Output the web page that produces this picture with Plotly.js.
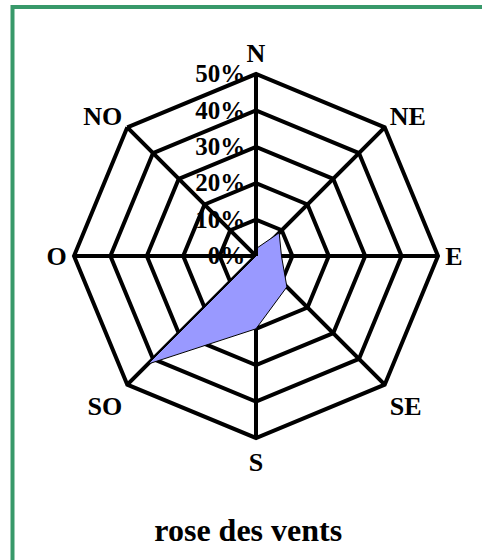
<!DOCTYPE html>
<html>
<head>
<meta charset="utf-8">
<script src="https://cdn.plot.ly/plotly-3.0.1.min.js"></script>
<style>
  body { margin: 0; background: #fff; }
  #rose { width: 482px; height: 560px; }
</style>
</head>
<body>
<div id="rose"></div>
<script>
// directions du vent, sens horaire depuis le nord
const directions = ["N", "NE", "E", "SE", "S", "SO", "O", "NO"];
// frequence en %
const frequences = [2, 9, 7, 12, 20, 42, 0, 0];
const ticksRayon = [0, 10, 20, 30, 40, 50];

const rosePlot = document.getElementById("rose");

// on ferme le polygone
let r = frequences.concat([frequences[0]]);
let theta = directions.concat([directions[0]]);

let datos = [
  {
    type: "scatterpolar",
    r: r,
    theta: theta,
    mode: "lines",
    fill: "toself",
    fillcolor: "#9999ff",
    line: { color: "#000", width: 1 },
    hoverinfo: "skip"
  }
];

let layout = {
  width: 482,
  height: 560,
  margin: { l: 0, r: 0, t: 0, b: 0 },
  paper_bgcolor: "#fff",
  showlegend: false,
  font: { family: "Liberation Serif, Times New Roman, serif", color: "#000", size: 26 },
  title: {
    text: "<b>rose des vents</b>",
    font: { size: 32, family: "Liberation Serif, serif", color: "#000" },
    x: 0.515, xanchor: "center",
    y: 1 - 530 / 560, yanchor: "middle"
  },
  polar: {
    domain: { x: [74 / 482, 438 / 482], y: [1 - 438 / 560, 1 - 74 / 560] },
    bgcolor: "#fff",
    gridshape: "linear",
    radialaxis: {
      range: [0, 50],
      tickvals: ticksRayon,
      ticktext: ticksRayon.map(v => "<b>" + v + "%</b>"),
      angle: 90,
      tickangle: 90,
      side: "counterclockwise",
      showline: true,
      linecolor: "#000",
      linewidth: 4,
      gridcolor: "#000",
      gridwidth: 4,
      ticks: "",
      tickfont: { size: 25 },
      layer: "above traces"
    },
    angularaxis: {
      categoryarray: directions,
      direction: "clockwise",
      rotation: 90,
      showline: true,
      linecolor: "#000",
      linewidth: 4,
      gridcolor: "#000",
      gridwidth: 4,
      ticks: "",
      tickvals: directions,
      ticktext: directions.map(d => "<b>" + d + "</b>"),
      tickfont: { size: 26 },
      layer: "above traces"
    }
  },
  shapes: [
    {
      type: "rect", xref: "paper", yref: "paper",
      x0: 12.5 / 482, x1: 1.2, y0: -0.2, y1: 1 - 7 / 560,
      line: { color: "#38996a", width: 4 }
    }
  ]
};

Plotly.newPlot(rosePlot, datos, layout, { displayModeBar: false, staticPlot: true });
</script>
</body>
</html>
